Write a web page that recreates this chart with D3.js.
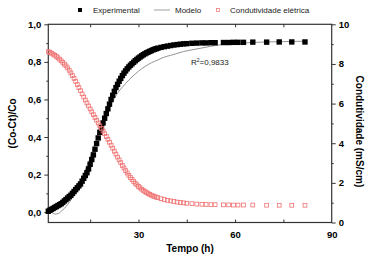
<!DOCTYPE html>
<html><head><meta charset="utf-8">
<script src="https://cdn.jsdelivr.net/npm/d3@7"></script>
<style>html,body{margin:0;padding:0;background:#fff;}svg{display:block;font-family:"Liberation Sans",Arial,sans-serif;}</style>
</head><body><svg id="c" width="378" height="260"></svg>
<script>
// sampling times (h)
const times = [2,2.5,3,3.5,4,4.5,5,5.5,6,6.5,7,7.5,8,8.5,9,9.5,10,10.5,11,11.5,12,12.5,13,13.5,14,14.5,15,15.5,16,16.5,17,17.5,18,18.5,19,19.5,20,20.5,21,21.5,22,22.5,23,23.5,24,24.5,25,25.5,26,26.5,27,27.5,28,28.5,29,29.5,30,30.5,31,31.5,32,32.5,33,33.5,34,34.5,35,35.5,36,37,38,39,40,41,42,43,44,45,46.6,48.1,49.7,51,52.5,53.8,56.4,58,59.5,60.9,62.6,65.5,69.8,73.7,77.6,81.7];
// (Co-Ct)/Co experimental
const experimental = [0.005,0.01,0.015,0.02,0.025,0.03,0.035,0.04,0.045,0.052,0.06,0.067,0.075,0.083,0.09,0.1,0.11,0.12,0.13,0.14,0.15,0.165,0.18,0.195,0.21,0.23,0.255,0.28,0.305,0.335,0.365,0.395,0.425,0.45,0.475,0.5,0.525,0.55,0.575,0.6,0.622,0.643,0.663,0.68,0.697,0.712,0.727,0.74,0.752,0.763,0.773,0.782,0.79,0.798,0.806,0.813,0.82,0.826,0.832,0.838,0.843,0.848,0.852,0.856,0.86,0.864,0.867,0.87,0.873,0.877,0.881,0.884,0.887,0.89,0.892,0.894,0.896,0.897,0.899,0.9,0.901,0.901,0.902,0.902,0.903,0.903,0.904,0.904,0.904,0.905,0.905,0.906,0.906,0.906];
// electrical conductivity (mS/cm)
const conductivity = [8.62,8.58,8.54,8.49,8.44,8.38,8.31,8.24,8.16,8.08,7.99,7.9,7.8,7.68,7.55,7.41,7.27,7.12,6.96,6.81,6.65,6.49,6.33,6.18,6.03,5.88,5.73,5.58,5.44,5.3,5.16,5.02,4.88,4.75,4.62,4.48,4.34,4.2,4.05,3.9,3.75,3.6,3.45,3.3,3.16,3.02,2.88,2.75,2.62,2.5,2.38,2.27,2.17,2.07,1.98,1.9,1.82,1.75,1.68,1.62,1.56,1.51,1.46,1.42,1.38,1.34,1.31,1.28,1.25,1.2,1.16,1.12,1.09,1.06,1.03,1.01,0.99,0.97,0.95,0.93,0.92,0.91,0.9,0.9,0.89,0.89,0.88,0.88,0.88,0.88,0.87,0.87,0.87,0.87];
// fitted model
const modelTimes = [2,3,4,5,6,7,8,9,10,11,12,13,14,15,16,17,18,19,20,21,22,23,24,25,26,28,30,32,34,36,38,40,42,44,46,50,55,60,65,70,75,82];
const modelValues = [0.012,0.0,-0.01,-0.008,0.005,0.02,0.04,0.065,0.095,0.13,0.165,0.205,0.245,0.29,0.34,0.39,0.44,0.48,0.52,0.555,0.59,0.62,0.645,0.665,0.685,0.72,0.75,0.775,0.795,0.81,0.825,0.835,0.845,0.855,0.862,0.875,0.89,0.898,0.903,0.906,0.908,0.91];
const xTicks = [30,60,90];
const yLeftTicks = [0,0.2,0.4,0.6,0.8,1.0];
const yRightTicks = [0,2,4,6,8,10];
const legendLabels = ["Experimental","Modelo","Condutividade elétrica"];
const r2Label = "0,9833";

const svg = d3.select("#c");
const L=48.3, R=331.7, T=24.3, B=222.5;
const x = d3.scaleLinear().domain([2,90]).range([L,R]);
const yL = d3.scaleLinear().domain([-0.055,1.0]).range([B,T]);
const yR = d3.scaleLinear().domain([0,10]).range([B,T]);
const axisColor = "#333";
const comma = v => d3.format(".1f")(v).replace(".",",");

// axes
const gB = svg.append("g").attr("transform",`translate(0,${B})`)
  .call(d3.axisBottom(x).tickValues(xTicks).tickSize(0).tickPadding(9));
const gT = svg.append("g").attr("transform",`translate(0,${T})`)
  .call(d3.axisBottom(x).tickValues([15,30,45,60,75]).tickSize(3).tickFormat(""));
const gBi = svg.append("g").attr("transform",`translate(0,${B})`)
  .call(d3.axisTop(x).tickValues([15,30,45,60,75]).tickSize(3).tickFormat(""));
const gL = svg.append("g").attr("transform",`translate(${L},0)`)
  .call(d3.axisLeft(yL).tickValues(yLeftTicks).tickSize(4).tickPadding(3).tickFormat(comma));
const gLm = svg.append("g").attr("transform",`translate(${L},0)`)
  .call(d3.axisLeft(yL).tickValues([0.1,0.3,0.5,0.7,0.9]).tickSize(2).tickFormat(""));
const gR = svg.append("g").attr("transform",`translate(${R},0)`)
  .call(d3.axisRight(yR).tickValues(yRightTicks).tickSize(4).tickPadding(3));
const gRm = svg.append("g").attr("transform",`translate(${R},0)`)
  .call(d3.axisRight(yR).tickValues([1,3,5,7,9]).tickSize(2).tickFormat(""));
[gB,gT,gBi,gL,gLm,gR,gRm].forEach(g=>{
  g.selectAll(".domain").remove();
  g.selectAll("line").attr("stroke",axisColor).attr("stroke-width",1);
  g.selectAll("text").attr("fill","#000").attr("font-size","9.5px").attr("font-weight","bold")
   .attr("font-family","'Liberation Sans',Arial,sans-serif");
});
svg.append("rect").attr("x",L).attr("y",T).attr("width",R-L).attr("height",B-T)
  .attr("fill","none").attr("stroke",axisColor).attr("stroke-width",1.2);

// model line
const line = d3.line().x((d,i)=>x(modelTimes[i])).y(d=>yL(d)).curve(d3.curveMonotoneX);
svg.append("path").datum(modelValues).attr("d",line).attr("fill","none")
  .attr("stroke","#777").attr("stroke-width",0.8);

// experimental squares
const s=5.4;
svg.append("g").selectAll("rect").data(experimental).join("rect")
  .attr("x",(d,i)=>x(times[i])-s/2).attr("y",d=>yL(d)-s/2)
  .attr("width",s).attr("height",s).attr("fill","#000");

// conductivity open squares
const so=3.8;
svg.append("g").selectAll("rect").data(conductivity).join("rect")
  .attr("x",(d,i)=>x(times[i])-so/2).attr("y",d=>yR(d)-so/2)
  .attr("width",so).attr("height",so).attr("fill","none")
  .attr("stroke","#f07070").attr("stroke-width",0.8);

// legend
const lg = svg.append("g").attr("font-size","8px").attr("fill","#222");
lg.append("rect").attr("x",78).attr("y",8).attr("width",4).attr("height",4).attr("fill","#000");
lg.append("text").attr("x",93).attr("y",13).text(legendLabels[0]);
lg.append("line").attr("x1",154).attr("x2",170).attr("y1",10).attr("y2",10).attr("stroke","#888").attr("stroke-width",0.8);
lg.append("text").attr("x",175).attr("y",13).text(legendLabels[1]);
lg.append("rect").attr("x",216.5).attr("y",8.5).attr("width",3).attr("height",3).attr("fill","none").attr("stroke","#f07070").attr("stroke-width",0.7);
lg.append("text").attr("x",230).attr("y",13).text(legendLabels[2]);

// R2 label
const rt = svg.append("text").attr("x",191).attr("y",65).attr("font-size","8px").attr("fill","#222");
rt.append("tspan").text("R");
rt.append("tspan").attr("dy",-3).attr("font-size","5px").text("2");
rt.append("tspan").attr("dy",3).text("="+r2Label);

// axis titles
svg.append("text").attr("transform",`translate(16,${(T+B)/2}) rotate(-90)`).attr("text-anchor","middle")
  .attr("font-size","10px").attr("font-weight","bold").text("(Co-Ct)/Co");
svg.append("text").attr("transform",`translate(356,${(T+B)/2+8}) rotate(90)`).attr("text-anchor","middle")
  .attr("font-size","10px").attr("font-weight","bold").text("Condutividade (mS/cm)");
svg.append("text").attr("x",(L+R)/2).attr("y",252).attr("text-anchor","middle")
  .attr("font-size","10px").attr("font-weight","bold").text("Tempo (h)");
</script></body></html>
